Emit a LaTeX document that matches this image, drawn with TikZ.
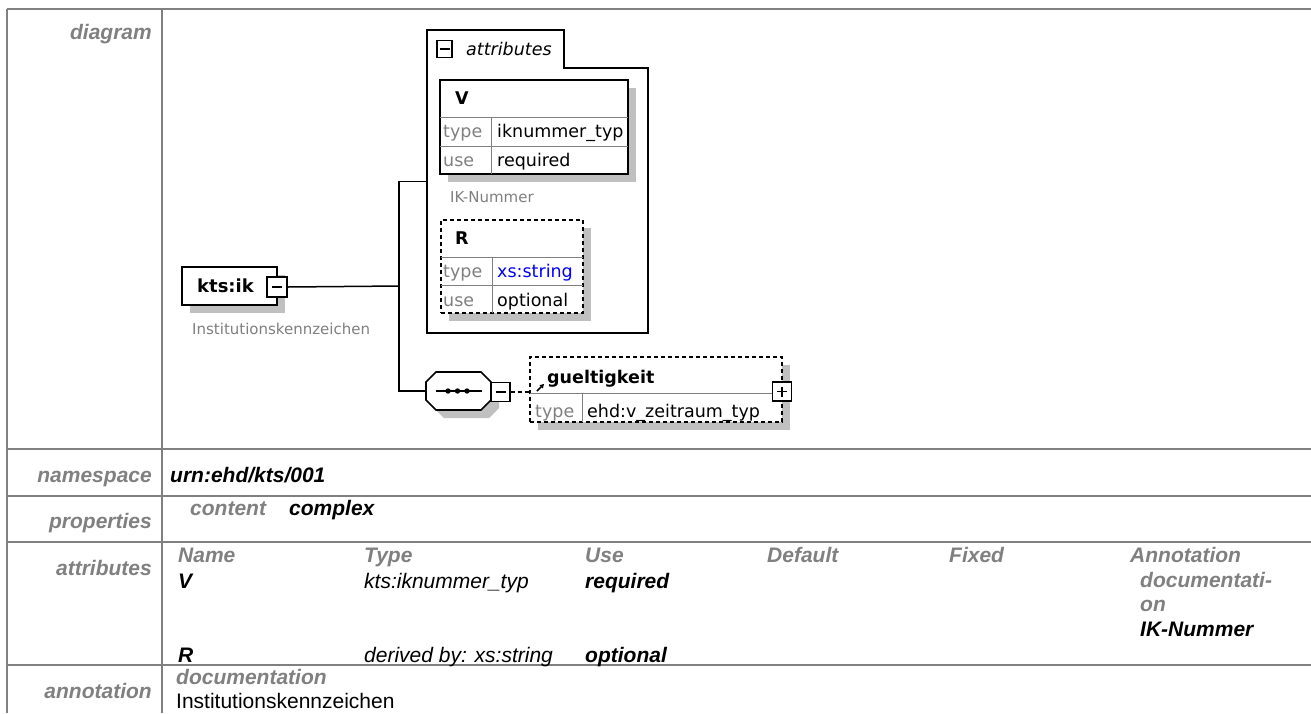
\documentclass[tikz,border=0pt]{standalone}
\usepackage{fontspec}
\setmainfont{Liberation Sans}
\newfontfamily\dvs{DejaVu Sans}
\usetikzlibrary{shadows,arrows.meta}
\definecolor{lgray}{HTML}{808080}
\definecolor{shgray}{HTML}{C0C0C0}
\definecolor{xsblue}{HTML}{0000FF}
\tikzset{
 tline/.style={draw=lgray, line width=2pt},
 lbl/.style={anchor=base east, inner sep=0pt, text=lgray, font=\fontsize{21}{24}\selectfont\bfseries\itshape},
 hd/.style={anchor=base west, inner sep=0pt, text=lgray, font=\fontsize{21}{24}\selectfont\bfseries\itshape},
 bv/.style={anchor=base west, inner sep=0pt, text=black, font=\fontsize{21}{24}\selectfont\bfseries\itshape},
 iv/.style={anchor=base west, inner sep=0pt, text=black, font=\fontsize{21}{24}\selectfont\itshape},
 rv/.style={anchor=base west, inner sep=0pt, text=black, font=\fontsize{21}{24}\selectfont},
 dt/.style={anchor=base west, inner sep=0pt, text=black, font=\dvs\fontsize{17.5}{20}\selectfont},
 dtg/.style={dt, text=lgray},
 dtb/.style={anchor=base west, inner sep=0pt, text=black, font=\dvs\fontsize{17.5}{20}\selectfont\bfseries},
 dti/.style={anchor=base west, inner sep=0pt, text=black, font=\dvs\fontsize{17.5}{20}\selectfont\itshape},
 dann/.style={anchor=base west, inner sep=0pt, text=lgray, font=\dvs\fontsize{15}{18}\selectfont},
 elbox/.style={draw=black, line width=1.6pt, fill=white, inner sep=0pt,
   general shadow={fill=shgray, draw=none, shadow xshift=8pt, shadow yshift=-8pt}},
 optbox/.style={elbox, dash pattern=on 4pt off 3pt},
 rowline/.style={draw=lgray, line width=1pt},
 conn/.style={draw=black, line width=1.5pt},
 minusbox/.style={draw=black, line width=1.2pt, fill=white, inner sep=0pt,
   minimum width=19pt, minimum height=19pt,
   path picture={\draw[line width=1.2pt] ([xshift=-5pt]path picture bounding box.center) -- ([xshift=5pt]path picture bounding box.center);}},
 plusbox/.style={minusbox,
   path picture={\draw[line width=1.2pt] ([xshift=-5pt]path picture bounding box.center) -- ([xshift=5pt]path picture bounding box.center);
                 \draw[line width=1.2pt] ([yshift=-5pt]path picture bounding box.center) -- ([yshift=5pt]path picture bounding box.center);}},
}
\begin{document}
\begin{tikzpicture}[x=1pt,y=-1pt]
\useasboundingbox (0,0) rectangle (1311,713);
\fill[white] (0,0) rectangle (1311,713);

% ---------- table grid ----------
\draw[tline] (7,9) -- (1311,9);
\draw[tline] (7,449) -- (1311,449);
\draw[tline] (7,496) -- (1311,496);
\draw[tline] (7,542) -- (1311,542);
\draw[tline] (7,665) -- (1311,665);
\draw[tline] (7,9) -- (7,713);
\draw[tline] (162,9) -- (162,713);

% ---------- row labels ----------
\node[lbl] (l1) at (152,39) {diagram};
\node[lbl] (l2) at (152,482) {namespace};
\node[lbl] (l3) at (152,528) {properties};
\node[lbl] (l4) at (152,575) {attributes};
\node[lbl] (l5) at (152,698) {annotation};

% ---------- namespace / properties ----------
\node[bv] (ns) at (170,482) {urn:ehd/kts/001};
\node[hd] (pc) at (190,515) {content};
\node[bv] (pv) at (289,515) {complex};

% ---------- attributes table ----------
\node[hd] (h1) at (178,562) {Name};
\node[hd] (h2) at (364,562) {Type};
\node[hd] (h3) at (585,562) {Use};
\node[hd] (h4) at (767,562) {Default};
\node[hd] (h5) at (949,562) {Fixed};
\node[hd] (h6) at (1130,562) {Annotation};
\node[bv] (a1) at (178,588) {V};
\node[iv] (a2) at (364,588) {kts:iknummer\_typ};
\node[bv] (a3) at (585,588) {required};
\node[hd] (a4) at (1140,587) {documentati-};
\node[hd] (a5) at (1140,611) {on};
\node[bv] (a6) at (1140,636) {IK-Nummer};
\node[bv] (b1) at (178,662) {R};
\node[iv] (b2) at (364,662) {derived by: xs:string};
\node[bv] (b3) at (585,662) {optional};

% ---------- annotation ----------
\node[hd] (an1) at (176,684) {documentation};
\node[rv] (an2) at (176,708) {Institutionskennzeichen};

% ---------- diagram: attributes container ----------
\node[inner sep=0pt, minimum width=221pt, minimum height=303pt] (attr) at (537.5,181.5) {};
\draw[line width=1.6pt] (427,30) -- (564,30) -- (564,68) -- (648,68) -- (648,333) -- (427,333) -- cycle;
\node[minusbox, minimum width=15pt, minimum height=17pt] (attrminus) at (444.5,49) {};
\node[dti] (attrlbl) at (466,55) {attributes};

% V attribute
\node[elbox, minimum width=188pt, minimum height=94pt] (vbox) at (534,127) {};
\draw[rowline] (440,117) -- (628,117);
\draw[rowline] (440,146) -- (628,146);
\draw[rowline] (491,117) -- (491,174);
\node[dtb] (vname) at (455,104) {V};
\node[dtg] (vt1) at (443,137) {type};
\node[dt] (vt2) at (497,137) {iknummer\_typ};
\node[dtg] (vu1) at (443,166) {use};
\node[dt] (vu2) at (497,166) {required};
\node[dann] (vann) at (450,202) {IK-Nummer};

% R attribute
\node[optbox, minimum width=142pt, minimum height=93pt] (rbox) at (512,266.5) {};
\draw[rowline] (441,257) -- (583,257);
\draw[rowline] (441,285) -- (583,285);
\draw[rowline] (492,257) -- (492,313);
\node[dtb] (rname) at (455,244) {R};
\node[dtg] (rt1) at (443,277) {type};
\node[dt, text=xsblue] (rt2) at (497,277) {xs:string};
\node[dtg] (ru1) at (443,306) {use};
\node[dt] (ru2) at (497,306) {optional};

% ---------- diagram: root element ----------
\node[elbox, minimum width=95pt, minimum height=38pt] (kts) at (229.5,286) {};
\node[dtb, font=\dvs\fontsize{18}{20}\selectfont\bfseries] (ktslbl) at (197,292) {kts:ik};
\node[minusbox, minimum width=20pt, minimum height=20pt] (ktsminus) at (277,287) {};
\node[dann] (ktsann) at (192,334) {Institutionskennzeichen};

% ---------- sequence compositor ----------
\node[inner sep=0pt, minimum width=65pt, minimum height=38pt] (seq) at (458.5,391) {};
\begin{scope}[shift={(8,8)}]
\fill[shgray] (436,372) -- (481,372) -- (491,382) -- (491,400) -- (481,410) -- (436,410) -- (426,400) -- (426,382) -- cycle;
\end{scope}
\filldraw[fill=white, draw=black, line width=1.6pt] (436,372) -- (481,372) -- (491,382) -- (491,400) -- (481,410) -- (436,410) -- (426,400) -- (426,382) -- cycle;
\draw[line width=1.5pt] (436,391) -- (482,391);
\fill (448,391) circle (2.7pt);
\fill (457.5,391) circle (2.7pt);
\fill (467,391) circle (2.7pt);
\node[minusbox] (seqminus) at (500.5,392) {};

% ---------- gueltigkeit element ----------
\node[optbox, minimum width=252pt, minimum height=65pt] (guel) at (656,389.5) {};
\draw[rowline] (530,393) -- (773,393);
\draw[rowline] (582,393) -- (582,422);
\draw[line width=1.6pt, -{Triangle[length=4pt,width=4.5pt]}] (537,391) -- (544,384);
\node[dtb] (guellbl) at (547,383) {gueltigkeit};
\node[dtg] (gt1) at (535,417) {type};
\node[dt] (gt2) at (587,417) {ehd:v\_zeitraum\_typ};
\node[plusbox] (guelplus) at (782,391.5) {};

% ---------- connectors ----------
\coordinate (jn) at (399,286);
\draw[conn] (ktsminus.east) -- (jn);
\draw[conn] (attr.west) -| (jn) |- (seq.west);
\draw[conn, dash pattern=on 4pt off 3pt] (seqminus.east) -- (guel.west |- seqminus.east);
\end{tikzpicture}
\end{document}
